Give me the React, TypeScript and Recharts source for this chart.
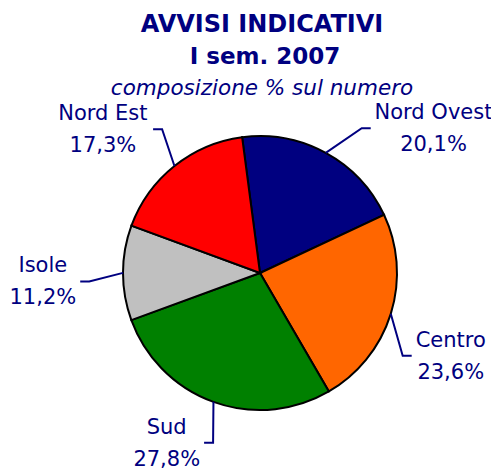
import React from "react";
import { PieChart, Pie, Cell } from "recharts";

const regions = ["Nord Ovest", "Centro", "Sud", "Isole", "Nord Est"];
const shares = [20.1, 23.6, 27.8, 11.2, 17.3];
const sliceColors = ["#000080", "#FF6600", "#008000", "#C0C0C0", "#FF0000"];

// label placement tweaks (degrees relative to mid angle, radius of the elbow)
const labelNudge = [
    { da: -6.4, r: 177 },
    { da: -12.8, r: 165 },
    { da: 4.4, r: 176 },
    { da: 2.9, r: 171 },
    { da: -4.4, r: 174 },
];

const data = regions.map((name, i) => ({ name, value: shares[i] }));

const NAVY = "#000080";
const FONT = "'DejaVu Sans', Verdana, sans-serif";
const LABEL_SIZE = 21;
const RAD = Math.PI / 180;

const charW = (c: string) => {
    if (/[0-9]/.test(c)) return 0.636;
    if (c === "%") return 0.95;
    if (c === "," || c === " ") return 0.318;
    if (c === "I" || c === "l" || c === "i") return 0.29;
    if (c === "t" || c === "r") return 0.4;
    if (/[A-Z]/.test(c)) return 0.74;
    return 0.6;
};
const textWidth = (s: string) =>
    s.split("").reduce((acc, c) => acc + charW(c), 0) * LABEL_SIZE;

const fmt = (v: number) => v.toFixed(1).replace(".", ",") + "%";

const renderLabel = (props: any) => {
    const { cx, cy, midAngle, outerRadius, index, name, value } = props;
    const nudge = labelNudge[index];
    const sx = cx + outerRadius * Math.cos(-midAngle * RAD);
    const sy = cy + outerRadius * Math.sin(-midAngle * RAD);
    const a = midAngle + nudge.da;
    const ex = cx + nudge.r * Math.cos(-a * RAD);
    const ey = cy + nudge.r * Math.sin(-a * RAD);
    const side = Math.cos(-midAngle * RAD) >= 0 ? 1 : -1;
    const hx = ex + side * 9;
    const val = fmt(value);
    const half = Math.max(textWidth(name), textWidth(val)) / 2;
    const tx = hx + side * (4 + half);
    return (
        <g key={`lbl-${index}`}>
            <polyline
                points={`${sx},${sy} ${ex},${ey} ${hx},${ey}`}
                fill="none"
                stroke={NAVY}
                strokeWidth={2}
            />
            <text
                x={tx}
                y={ey - 16}
                textAnchor="middle"
                dominantBaseline="central"
                fill={NAVY}
                fontSize={LABEL_SIZE}
                fontFamily={FONT}
            >
                {name}
            </text>
            <text
                x={tx}
                y={ey + 16}
                textAnchor="middle"
                dominantBaseline="central"
                fill={NAVY}
                fontSize={LABEL_SIZE}
                fontFamily={FONT}
            >
                {val}
            </text>
        </g>
    );
};

export default function App() {
    return (
        <div style={{ position: "absolute", left: 0, top: 0, width: 491, height: 470, background: "#fff" }}>
            <svg width={491} height={110} style={{ position: "absolute", left: 0, top: 0 }}>
                <text x={262} y={32} textAnchor="middle" fill={NAVY} fontFamily={FONT} fontWeight="bold" fontSize={24}>
                    AVVISI INDICATIVI
                </text>
                <text x={265} y={64} textAnchor="middle" fill={NAVY} fontFamily={FONT} fontWeight="bold" fontSize={23}>
                    I sem. 2007
                </text>
                <text x={262} y={95} textAnchor="middle" fill={NAVY} fontFamily={FONT} fontStyle="italic" fontSize={21.5}>
                    composizione % sul numero
                </text>
            </svg>
            <div style={{ position: "absolute", left: 0, top: 0 }}>
                <PieChart width={491} height={470} margin={{ top: 0, right: 0, bottom: 0, left: 0 }}>
                    <Pie
                        data={data}
                        dataKey="value"
                        nameKey="name"
                        cx={260}
                        cy={273}
                        outerRadius={137}
                        startAngle={97.5}
                        endAngle={-262.5}
                        stroke="#000"
                        strokeWidth={2}
                        labelLine={false}
                        label={renderLabel}
                        isAnimationActive={false}
                    >
                        {data.map((d, i) => (
                            <Cell key={d.name} fill={sliceColors[i]} />
                        ))}
                    </Pie>
                </PieChart>
            </div>
        </div>
    );
}
